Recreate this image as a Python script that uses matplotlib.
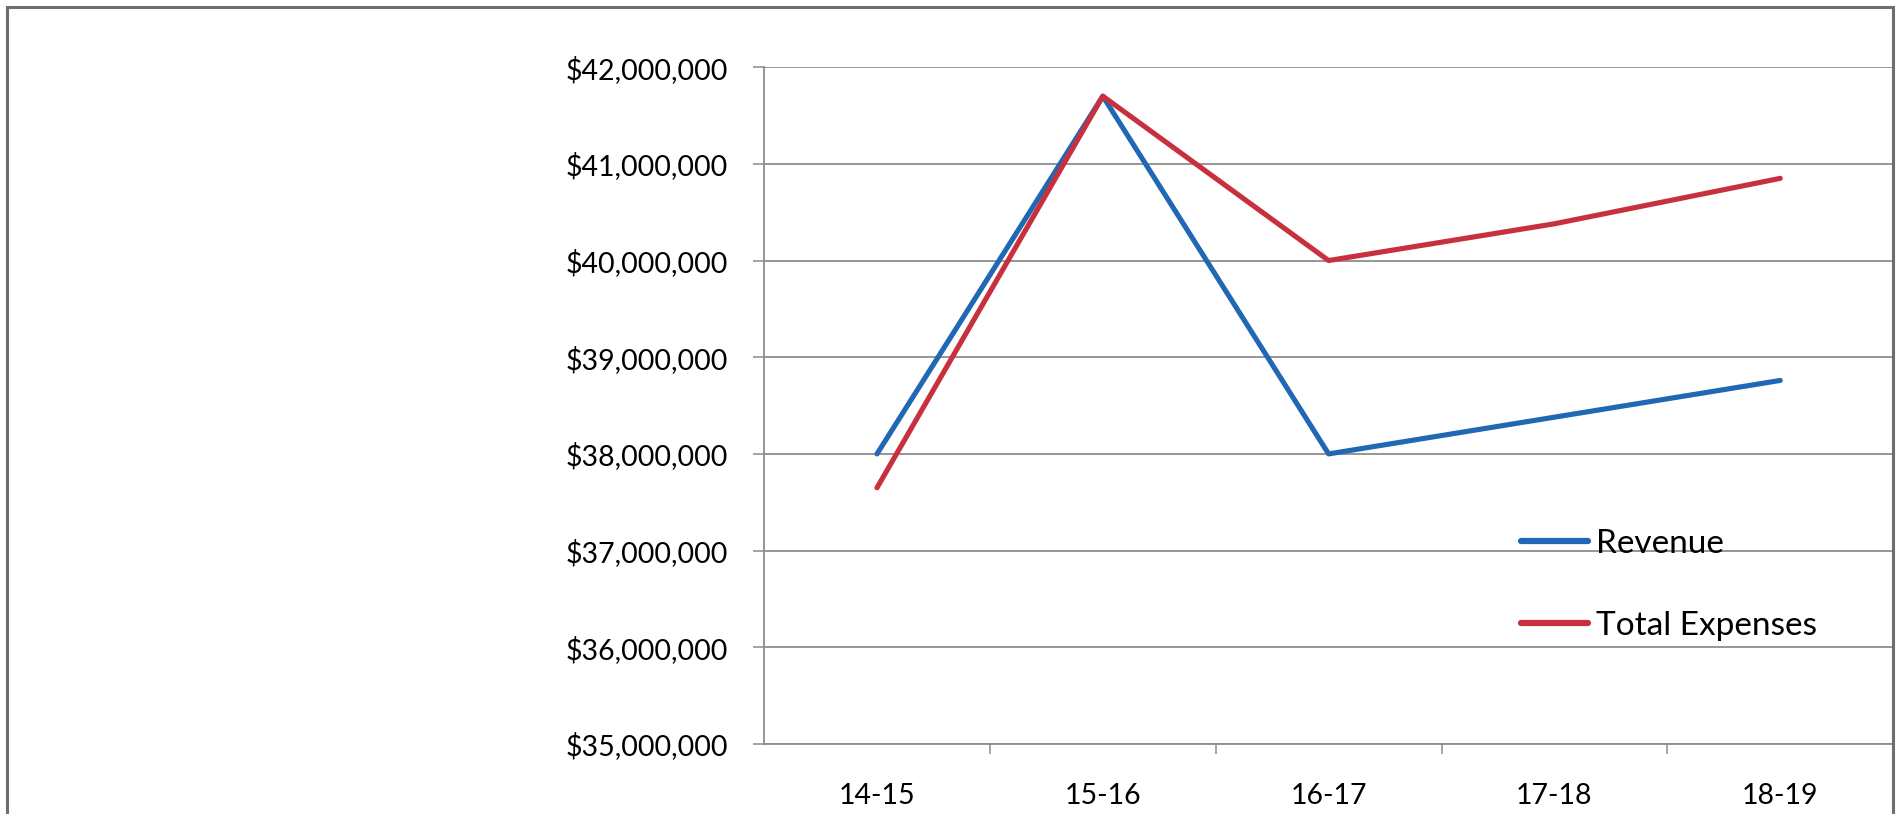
import matplotlib
matplotlib.use('Agg')
import matplotlib.pyplot as plt
from matplotlib.patches import Rectangle
from matplotlib.ticker import FuncFormatter, FixedLocator

# data
years = ['14-15', '15-16', '16-17', '17-18', '18-19']
revenue = [38000000, 41700000, 38000000, 38380000, 38760000]
expenses = [37650000, 41700000, 40000000, 40380000, 40850000]
y_ticks = [35000000, 36000000, 37000000, 38000000, 39000000, 40000000, 41000000, 42000000]

plt.rcParams['font.family'] = ['Lato', 'DejaVu Sans']

fig = plt.figure(figsize=(18.96, 8.14), dpi=100)
ax = fig.add_axes([0.403, 0.086, 0.5955, 0.8315])

x = range(len(years))
ax.plot(x, revenue, color='#2168b4', lw=3.7, label='Revenue', solid_capstyle='round', zorder=3)
ax.plot(x, expenses, color='#c8303e', lw=3.7, label='Total Expenses', solid_capstyle='round', zorder=4)

ax.set_xlim(-0.5, len(years) - 0.5)
ax.set_ylim(y_ticks[0], y_ticks[-1])

# y axis: dollar labels, grey grid
ax.set_yticks(y_ticks)
ax.yaxis.set_major_formatter(FuncFormatter(lambda v, p: '${:,.0f}'.format(v)))
ax.grid(axis='y', color='#8c8c8c', lw=1.3)
ax.tick_params(axis='y', length=8, width=1.1, color='#8c8c8c', pad=18, labelsize=20.5, labelcolor='black')

# x axis: labels centred, tick marks between categories
ax.set_xticks(list(x))
ax.set_xticklabels(years)
ax.xaxis.set_minor_locator(FixedLocator([i + 0.5 for i in range(len(years) - 1)]))
ax.tick_params(axis='x', which='major', length=0, pad=28, labelsize=20.5, labelcolor='black')
ax.tick_params(axis='x', which='minor', length=7, width=1.1, color='#8c8c8c')

for side in ['top', 'right']:
    ax.spines[side].set_visible(False)
for side in ['left', 'bottom']:
    ax.spines[side].set_color('#8c8c8c')
    ax.spines[side].set_linewidth(1.3)

leg = ax.legend(loc='center left', bbox_to_anchor=(0.644, 0.235), frameon=False,
                fontsize=24, handlelength=2.0, handletextpad=0.25, labelspacing=1.55)
for h in leg.get_lines():
    h.set_linewidth(4.5)

# outer chart frame
fig.patches.append(Rectangle((7 / 1896, -0.05), 1886 / 1896, 1.05 - 7 / 814,
                             transform=fig.transFigure, fill=False,
                             edgecolor='#6e6e6e', lw=2.2))

fig.savefig('out.png', dpi=100, facecolor='white')
